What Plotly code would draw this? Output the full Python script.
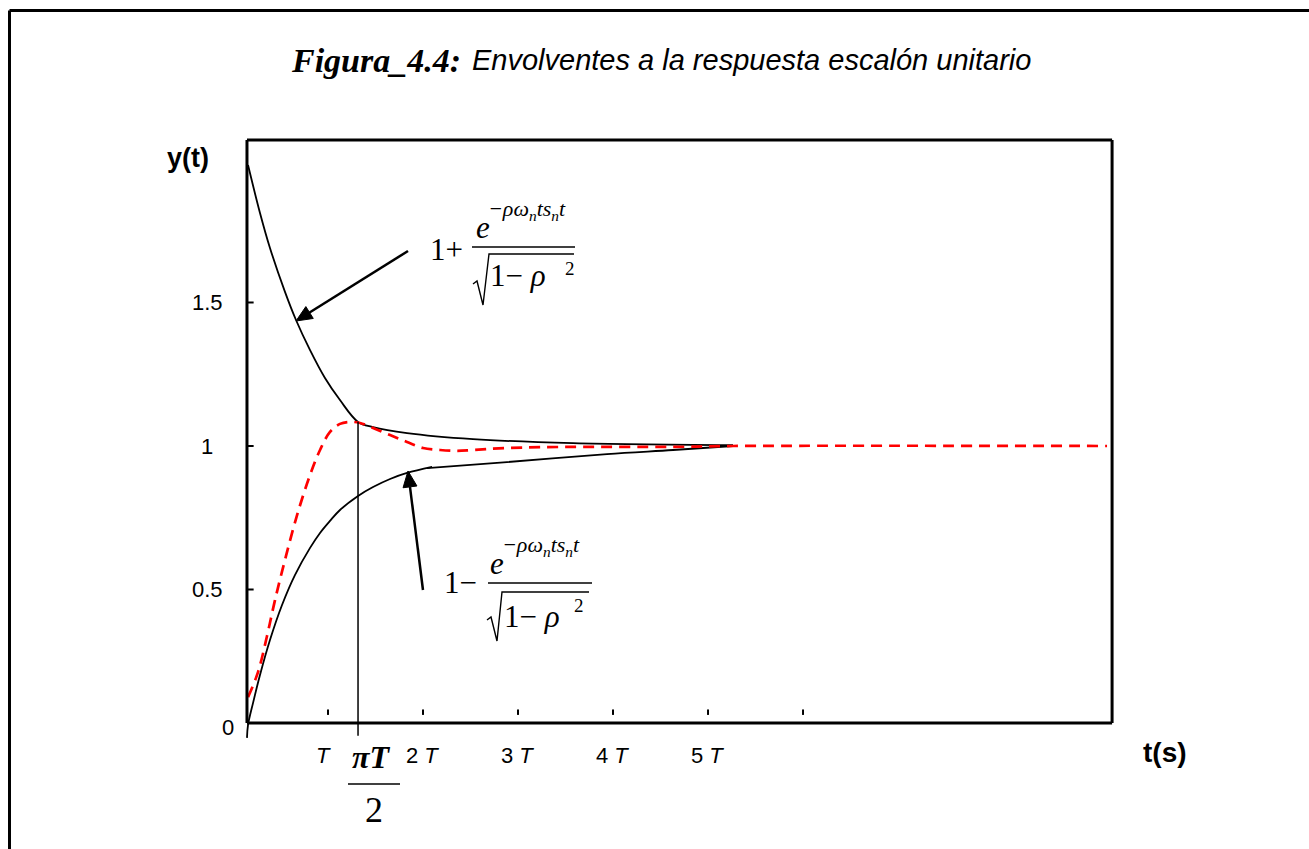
import math
import plotly.graph_objects as go

# ---- data (time in units of T, response in per-unit) ----
t_upper = [0.158, 0.284, 0.389, 0.547, 0.663, 0.811, 0.968, 1.126, 1.316,
           1.474, 1.832, 2.526, 3.579, 5.263]
y_upper = [1.979, 1.812, 1.690, 1.537, 1.439, 1.334, 1.237, 1.160, 1.084,
           1.066, 1.045, 1.024, 1.010, 1.003]

t_lower_a = [0.147, 0.158, 0.211, 0.284, 0.389, 0.516, 0.653, 0.811, 0.916, 1.021,
             1.126, 1.316, 1.474, 1.653, 1.832, 2.095]
y_lower_a = [-0.017, 0.028, 0.105, 0.202, 0.324, 0.446, 0.551, 0.645, 0.697, 0.739,
             0.777, 0.826, 0.857, 0.885, 0.906, 0.927]

t_lower_b = [2.042, 2.884, 3.937, 4.632, 5.263]
y_lower_b = [0.923, 0.944, 0.972, 0.986, 1.000]

t_resp = [0.158, 0.263, 0.358, 0.442, 0.558, 0.684, 0.811, 0.916, 1.021, 1.126,
          1.232, 1.337, 1.474, 1.653, 1.832, 2.000, 2.179, 2.358, 2.526, 2.884,
          3.579, 4.632, 5.263, 9.2]
y_resp = [0.125, 0.212, 0.338, 0.463, 0.617, 0.770, 0.899, 0.986, 1.049, 1.077,
          1.084, 1.080, 1.063, 1.038, 1.014, 0.993, 0.986, 0.983, 0.986, 0.993,
          0.997, 0.997, 1.000, 1.000]

x_ticks = [1, 2, 3, 4, 5, 6]
x_tick_text = ["<i>T</i>", "2 <i>T</i>", "3 <i>T</i>", "4 <i>T</i>", "5 <i>T</i>"]
y_ticks = [0.5, 1.0, 1.5]
y_tick_text = ["0.5", "1", "1.5"]
t_half_period = 1.316   # position of the pi*T/2 marker
y_half_period = 1.084

# ---- frame geometry ----
X0, X1 = 0.147, 9.253    # left / right borders of the chart box
Y0, Y1 = 0.035, 2.066    # bottom / top borders of the chart box
XR = [0.042, 9.389]
YR = [-0.0418, 2.101]

W, H = 1309, 849
ML, MR, MT, MB = 237, W - 1125, 130, H - 745
PW, PH = W - ML - MR, H - MT - MB


def px(x):
    return (x - ML) / PW


def py(y):
    return (H - MB - y) / PH


SERIF = "Liberation Serif, Times New Roman, serif"
SANS = "Liberation Sans, Arial, sans-serif"

fig = go.Figure()
blk = dict(color="black", width=1.8)
for tx, ty in [(t_upper, y_upper), (t_lower_a, y_lower_a), (t_lower_b, y_lower_b)]:
    fig.add_trace(go.Scatter(x=tx, y=ty, mode="lines", line=blk,
                             line_shape="spline", showlegend=False, hoverinfo="skip"))
fig.add_trace(go.Scatter(x=t_resp, y=y_resp, mode="lines",
                         line=dict(color="#FF0000", width=2.7, dash="11px,7px"),
                         line_shape="spline", showlegend=False, hoverinfo="skip"))

shapes = []
# chart box
frame = dict(color="black", width=3)
shapes += [
    dict(type="line", x0=X0, x1=X1, y0=Y0, y1=Y0, line=frame),
    dict(type="line", x0=X0, x1=X1, y0=Y1, y1=Y1, line=frame),
    dict(type="line", x0=X0, x1=X0, y0=Y0, y1=Y1, line=frame),
    dict(type="line", x0=X1, x1=X1, y0=Y0, y1=Y1, line=frame),
]
# floating tick marks above the time axis
for xv in x_ticks:
    shapes.append(dict(type="line", x0=xv, x1=xv, y0=0.063, y1=0.082,
                       line=dict(color="black", width=2)))
# inside ticks on the response axis
for yv in y_ticks:
    shapes.append(dict(type="line", x0=X0, x1=X0 + 0.07, y0=yv, y1=yv,
                       line=dict(color="black", width=2)))
# marker line at pi*T/2
shapes.append(dict(type="line", x0=t_half_period, x1=t_half_period, y0=-0.01,
                   y1=y_half_period, line=dict(color="black", width=1.5)))
for s in shapes:
    s.update(xref="x", yref="y")

# outer page border (top and left)
border = dict(color="black", width=3)
shapes.append(dict(type="line", xref="paper", yref="paper", x0=px(9.5), x1=px(1320),
                   y0=py(10.5), y1=py(10.5), line=border))
shapes.append(dict(type="line", xref="paper", yref="paper", x0=px(9.5), x1=px(9.5),
                   y0=py(10.5), y1=py(860), line=border))

# fraction bars of the envelope formulas and of pi*T/2
thin = dict(color="black", width=1.4)
for (a, b, yy) in [(472, 575, 247), (488, 592, 583), (348, 400, 784)]:
    shapes.append(dict(type="line", xref="paper", yref="paper", x0=px(a), x1=px(b),
                       y0=py(yy), y1=py(yy), line=thin))


def polyline(pts, close=False, width=1.4, fill=None):
    d = "M " + " L ".join(f"{px(a):.5f},{py(b):.5f}" for a, b in pts)
    if close:
        d += " Z"
    s = dict(type="path", xref="paper", yref="paper", path=d,
             line=dict(color="black", width=width))
    if fill:
        s["fillcolor"] = fill
    return s


# radical signs
shapes.append(polyline([(473, 284), (477, 281), (483, 305), (489, 254), (574, 254)]))
shapes.append(polyline([(487, 620), (491, 617), (497, 641), (502, 592), (589, 592)]))


def arrow(tail, tip, head_len=16, half_w=7):
    dx, dy = tip[0] - tail[0], tip[1] - tail[1]
    n = math.hypot(dx, dy)
    ux, uy = dx / n, dy / n
    bx, by = tip[0] - head_len * ux, tip[1] - head_len * uy
    nx, ny = -uy * half_w, ux * half_w
    return [polyline([tail, (bx, by)], width=2.5),
            polyline([tip, (bx + nx, by + ny), (bx - nx, by - ny)], close=True,
                     width=1, fill="black")]


shapes += arrow((408, 251), (296, 321))
shapes += arrow((423, 590), (408, 471))

ann = []


def txt(x, y, s, size, family=SANS, xanchor="center", yanchor="middle", color="black"):
    ann.append(dict(xref="paper", yref="paper", x=px(x), y=py(y), text=s,
                    showarrow=False, xanchor=xanchor, yanchor=yanchor,
                    font=dict(size=size, family=family, color=color)))


# title
txt(463, 60, "<b><i>Figura_4.4:</i></b>", 34, SERIF, xanchor="right")
txt(470, 60, "<i>Envolventes a la respuesta escalón unitario</i>", 29, SANS, xanchor="left")

# axis titles
txt(188, 158, "<b>y(t)</b>", 27)
txt(1165, 752, "<b>t(s)</b>", 28)

# response-axis labels
for yv, s in zip(y_ticks, y_tick_text):
    ann.append(dict(xref="paper", yref="y", x=px(207), y=yv, text=s, showarrow=False,
                    xanchor="center", yanchor="middle",
                    font=dict(size=22, family=SANS, color="black")))
txt(228, 727, "0", 22)

# time-axis labels
for xv, s in zip(x_ticks, x_tick_text):
    shift = -0.05 if xv == 1 else -0.01
    ann.append(dict(xref="x", yref="paper", x=xv + shift, y=py(755), text=s,
                    showarrow=False, xanchor="center", yanchor="middle",
                    font=dict(size=22, family=SANS, color="black")))
txt(371, 757, "<b><i>πT</i></b>", 32, SERIF)
txt(374, 810, "2", 36, SERIF)

# upper envelope formula
txt(446, 250, "1+", 31, SERIF)
txt(483, 227, "<i>e</i>", 31, SERIF)
txt(486, 210, "<i>−ρω<sub>n</sub>ts<sub>n</sub>t</i>", 22, SERIF, xanchor="left")
txt(488, 275, "1− <i>ρ</i>", 31, SERIF, xanchor="left")
txt(570, 268, "2", 19, SERIF)

# lower envelope formula
txt(460, 582, "1−", 31, SERIF)
txt(497, 563, "<i>e</i>", 31, SERIF)
txt(500, 546, "<i>−ρω<sub>n</sub>ts<sub>n</sub>t</i>", 22, SERIF, xanchor="left")
txt(502, 616, "1− <i>ρ</i>", 31, SERIF, xanchor="left")
txt(579, 605, "2", 19, SERIF)

fig.update_layout(
    width=W, height=H, margin=dict(l=ML, r=MR, t=MT, b=MB),
    paper_bgcolor="white", plot_bgcolor="white",
    xaxis=dict(range=XR, visible=False, fixedrange=True),
    yaxis=dict(range=YR, visible=False, fixedrange=True),
    shapes=shapes, annotations=ann, showlegend=False,
)

fig.write_html("out.html", config={"displayModeBar": False})
